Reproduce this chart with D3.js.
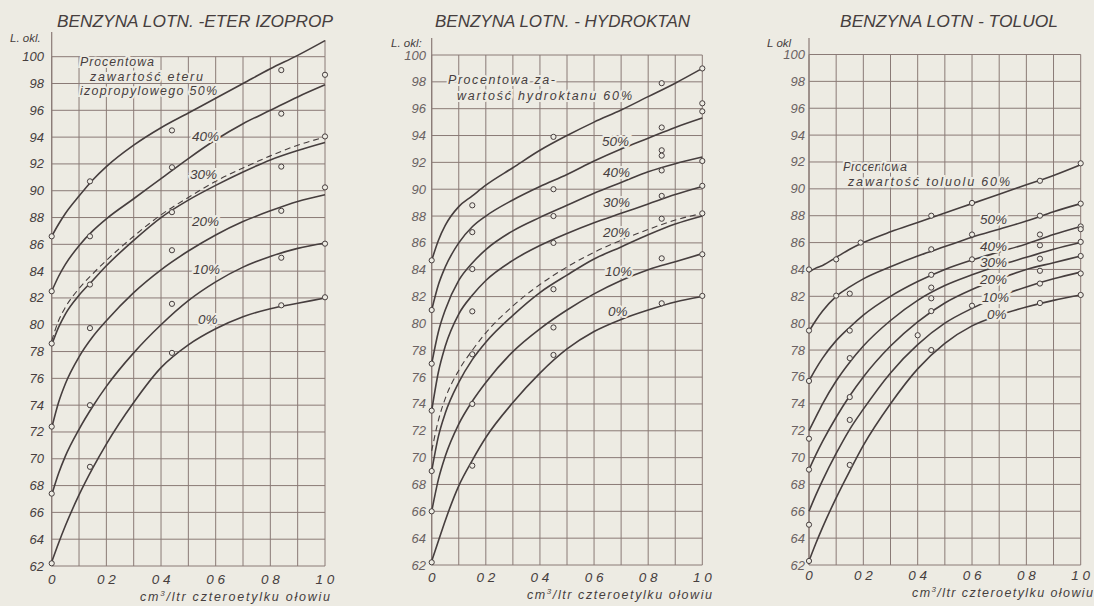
<!DOCTYPE html>
<html><head><meta charset="utf-8">
<script src="https://cdn.jsdelivr.net/npm/d3@7"></script>
<style>
body{margin:0;background:#edebe3;}
svg{display:block;}
text{font-family:"Liberation Sans",Arial,sans-serif;font-style:italic;fill:#463e3e;}
</style>
</head><body>
<svg id="chart" width="1094" height="606"></svg>
<script>
// ---------- shared axes data ----------
const xs = [0, 0.025, 0.05, 0.1, 0.15, 0.2, 0.3, 0.4, 0.5, 0.6, 0.7, 0.8, 0.9, 1.0];
const yTicks = [62,64,66,68,70,72,74,76,78,80,82,84,86,88,90,92,94,96,98,100];
const xGridVals = [0,0.1,0.2,0.3,0.4,0.5,0.6,0.7,0.8,0.9,1.0];
const xTicks = [0,0.2,0.4,0.6,0.8,1.0];
const xTickLabels = ["0","0 2","0 4","0 6","0 8","1 0"];
const yAxisLabels = ["L. okl.","L. okl:","L okl"];
const xAxisLabel = "czteroetylku ołowiu";

// ---------- panel 1: eter izopropylowy ----------
const eterTitle = "BENZYNA LOTN. -ETER IZOPROP";
const eterNames = ["0%","10%","20%","30%","40%","50%"];
const eter0  = [62.3,63.7,65.0,67.3,69.3,71.1,74.2,76.8,78.5,79.7,80.6,81.2,81.6,82.0];
const eter10 = [67.3,68.9,70.2,72.2,73.9,75.4,77.9,80.0,81.8,83.2,84.3,85.1,85.7,86.1];
const eter20 = [72.3,74.2,75.6,77.6,79.1,80.3,82.4,84.1,85.5,86.7,87.7,88.5,89.2,89.7];
const eter30 = [78.5,79.8,80.8,82.2,83.3,84.4,86.3,88.0,89.3,90.4,91.4,92.3,93.0,93.6];
const eter30dash = [78.8,80.3,81.3,82.7,83.8,84.8,86.6,88.2,89.5,90.7,91.7,92.6,93.4,94.0];
const eter40 = [82.5,83.6,84.5,85.9,87.0,87.9,89.4,90.9,92.4,93.8,95.0,96.0,97.0,97.9];
const eter50 = [86.6,87.5,88.3,89.6,90.8,91.8,93.4,94.7,95.8,96.9,98.0,99.1,100.1,101.2];
const eterPtX = [0, 0.14, 0.44, 0.84, 1.0];
const eterPtY = [[86.6,82.5,78.6,72.4,67.4,62.2],[90.7,86.6,83.0,79.75,74.0,69.4],[94.5,91.75,88.4,85.56,81.56,77.9],[99.0,95.75,91.8,88.5,85.0,81.45],[98.65,94.05,90.25,86.05,82.05]];
const eterNote = ["Procentowa","zawartość eteru","izopropylowego 50%"];

// ---------- panel 2: hydroktan ----------
const hydTitle = "BENZYNA LOTN. - HYDROKTAN";
const hydNames = ["0%","10%","20%","30%","40%","50%","60%"];
const hyd0  = [62.3,63.8,65.3,67.9,69.8,71.5,74.1,76.3,78.1,79.4,80.3,81.0,81.6,82.0];
const hyd10 = [66.0,68.4,70.1,72.5,74.2,75.6,77.9,79.6,81.0,82.2,83.2,84.0,84.6,85.2];
const hyd20 = [69.0,71.6,73.3,75.6,77.3,78.6,80.6,82.3,83.6,84.8,85.7,86.6,87.4,88.0];
const hyd20dash = [70.5,72.8,74.4,76.5,78.0,79.3,81.3,82.9,84.2,85.3,86.2,87.0,87.7,88.2];
const hyd30 = [73.5,76.4,78.3,80.7,82.1,83.2,84.7,85.8,86.7,87.5,88.2,88.9,89.6,90.2];
const hyd40 = [77.0,79.4,81.0,83.2,84.5,85.5,86.9,87.9,88.8,89.7,90.5,91.3,91.9,92.4];
const hyd50 = [81.0,82.9,84.2,86.0,87.2,88.0,89.2,90.2,91.1,92.1,93.0,93.8,94.6,95.3];
const hyd60 = [84.7,86.2,87.3,88.7,89.5,90.3,91.6,92.9,94.0,95.0,95.9,96.9,97.9,99.0];
const hydPtX = [0, 0.15, 0.45, 0.85, 1.0];
const hydPtY = [[84.7,81.0,77.0,73.5,69.0,66.0,62.2],[88.8,86.8,84.05,80.9,77.7,74.0,69.4],[93.9,90.0,88.0,86.0,82.55,79.7,77.65],[97.9,94.6,92.9,92.5,91.4,89.5,87.8,84.85,81.5],[99.0,96.4,95.8,92.1,90.25,88.2,85.15,82.05]];
const hydNote = ["Procentowa za-","wartość hydroktanu 60%"];

// ---------- panel 3: toluol ----------
const tolTitle = "BENZYNA LOTN - TOLUOL";
const tolNames = ["0%","10%","20%","30%","40%","50%","60%"];
const tol0  = [62.3,63.6,64.8,67.0,69.0,70.9,74.0,76.6,78.5,79.8,80.6,81.2,81.7,82.1];
const tol10 = [66.0,67.2,68.3,70.3,72.1,73.6,76.3,78.4,80.0,81.1,82.0,82.7,83.3,83.8];
const tol20 = [69.1,70.2,71.2,73.0,74.6,76.0,78.3,80.1,81.5,82.5,83.3,84.0,84.5,85.0];
const tol30 = [72.0,73.0,74.0,75.7,77.1,78.3,80.2,81.7,82.8,83.6,84.3,84.9,85.5,86.0];
const tol40 = [75.7,76.6,77.4,78.7,79.7,80.6,82.0,83.1,84.0,84.7,85.3,85.9,86.6,87.2];
const tol50 = [79.4,80.2,80.9,82.0,82.7,83.3,84.2,85.0,85.7,86.4,87.0,87.6,88.3,88.9];
const tol60 = [83.8,84.1,84.3,84.9,85.5,86.0,86.8,87.5,88.2,88.9,89.6,90.3,91.0,91.8];
const tolPtX = [0, 0.1, 0.15, 0.19, 0.4, 0.45, 0.6, 0.85, 1.0];
const tolPtY = [[84.0,79.45,75.7,71.4,69.1,65.0,62.3],[84.75,82.05],[82.2,79.45,77.4,74.5,72.8,69.45],[86.0],[79.1],[88.0,85.5,83.6,82.65,81.85,80.9,78.0],[88.95,86.6,84.75,81.3],[90.6,88.0,86.6,85.8,84.8,83.9,82.95,81.5],[91.9,88.9,87.2,87.0,86.05,85.0,83.7,82.1]];
const tolNote = ["Procentowa","zawartość toluolu 60%"];

// ---------- layout (positions only) ----------
const panels = [
  {title:eterTitle, titleX:57, titleW:276, titleY:27,
   x0:51.7, x1:325, yTop:56.7, yBot:566, yLabRight:44, axisTop:32, rightTop:40,
   yLab:yAxisLabels[0], yLabX:10, yLabY:42, labFill:"#463e3e",
   series:[eter0,eter10,eter20,eter30,eter40,eter50], dashed:[eter30dash],
   names:eterNames,
   labelPos:[[198,324],[193,274],[192,226],[190,179],[192,141],null],
   ptX:eterPtX, ptY:eterPtY,
   note:eterNote, notePos:[[80,66,74],[90,81,113],[80,95,137]],
   tickY:584, xlabX:140, xlabW:190, xlabY:601},
  {title:hydTitle, titleX:435, titleW:255, titleY:27,
   x0:431.7, x1:702.3, yTop:55, yBot:565, yLabRight:426, axisTop:38, rightTop:null,
   yLab:yAxisLabels[1], yLabX:391, yLabY:47, labFill:"#6a6262",
   series:[hyd0,hyd10,hyd20,hyd30,hyd40,hyd50,hyd60], dashed:[hyd20dash],
   names:hydNames,
   labelPos:[[608,316],[605,276],[603,237],[603,207],[603,177],[602,146],null],
   ptX:hydPtX, ptY:hydPtY,
   note:hydNote, notePos:[[448,84,107],[457,100,175]],
   tickY:582, xlabX:527, xlabW:185, xlabY:599},
  {title:tolTitle, titleX:840, titleW:218, titleY:27,
   x0:809, x1:1080.7, yTop:54.5, yBot:565, yLabRight:805, axisTop:38, rightTop:null,
   yLab:yAxisLabels[2], yLabX:767, yLabY:47, labFill:"#6a6262",
   series:[tol0,tol10,tol20,tol30,tol40,tol50,tol60], dashed:[],
   names:tolNames,
   labelPos:[[987,319],[982,302],[980,284],[980,267],[980,251],[980,224],null],
   ptX:tolPtX, ptY:tolPtY,
   note:tolNote, notePos:[[843,171,64],[848,186,162]],
   tickY:580, xlabX:912, xlabW:181, xlabY:597}
];

const BG = "#edebe3", GRID = "#8a7a76", INK = "#463e3e";
const svg = d3.select("#chart");
svg.append("rect").attr("width",1094).attr("height",606).attr("fill",BG);

panels.forEach(p => {
  const x = d3.scaleLinear().domain([0,1]).range([p.x0,p.x1]);
  const y = d3.scaleLinear().domain([62,100]).range([p.yBot,p.yTop]);
  const g = svg.append("g");

  // grid
  g.selectAll(".hg").data(yTicks).enter().append("line")
    .attr("x1",x(0)).attr("x2",x(1)).attr("y1",d=>y(d)).attr("y2",d=>y(d))
    .attr("stroke",GRID).attr("stroke-width",1);
  g.selectAll(".vg").data(xGridVals).enter().append("line")
    .attr("x1",d=>x(d)).attr("x2",d=>x(d)).attr("y1",y(62)).attr("y2",y(100))
    .attr("stroke",GRID).attr("stroke-width",1);
  // axis extension to label
  g.append("line").attr("x1",x(0)).attr("x2",x(0)).attr("y1",p.axisTop).attr("y2",y(62))
    .attr("stroke",GRID).attr("stroke-width",1.2);
  if (p.rightTop) g.append("line").attr("x1",x(1)).attr("x2",x(1)).attr("y1",p.rightTop).attr("y2",y(100))
    .attr("stroke",GRID).attr("stroke-width",1);

  // y tick labels
  g.selectAll(".yl").data(yTicks).enter().append("text")
    .attr("x",p.yLabRight).attr("y",d=>y(d)+4.5).attr("text-anchor","end")
    .attr("font-size",13).style("fill",p.labFill).text(d=>d);
  g.append("text").attr("x",p.yLabX).attr("y",p.yLabY).attr("font-size",11.5).text(p.yLab);

  // x tick labels
  g.selectAll(".xl").data(xTicks).enter().append("text")
    .attr("x",d=>x(d)).attr("y",p.tickY).attr("text-anchor","middle")
    .attr("font-size",13.5).attr("xml:space","preserve").text((d,i)=>xTickLabels[i]);
  const xl = g.append("text").attr("x",p.xlabX).attr("y",p.xlabY).attr("font-size",12.5)
    .attr("textLength",p.xlabW).attr("lengthAdjust","spacing");
  xl.append("tspan").text("cm");
  xl.append("tspan").attr("dy",-5).attr("font-size",8).text("3");
  xl.append("tspan").attr("dy",5).text("/ltr  " + xAxisLabel);

  // title
  g.append("text").attr("x",p.titleX).attr("y",p.titleY).attr("font-size",17)
    .attr("textLength",p.titleW).attr("lengthAdjust","spacingAndGlyphs").text(p.title);

  // curves
  const line = d3.line().x((d,i)=>x(xs[i])).y(d=>y(d)).curve(d3.curveMonotoneX);
  p.dashed.forEach(s => g.append("path").attr("d",line(s)).attr("fill","none")
    .attr("stroke",INK).attr("stroke-width",1.1).attr("stroke-dasharray","6,4"));
  p.series.forEach(s => g.append("path").attr("d",line(s)).attr("fill","none")
    .attr("stroke",INK).attr("stroke-width",1.6));

  // data points
  p.ptX.forEach((px,i) => {
    g.selectAll(null).data(p.ptY[i]).enter().append("circle")
      .attr("cx",x(px)).attr("cy",d=>y(d)).attr("r",2.6)
      .attr("fill",BG).attr("stroke",INK).attr("stroke-width",1);
  });

  // labels
  p.names.forEach((n,i) => {
    const lp = p.labelPos[i]; if (!lp) return;
    g.append("text").attr("x",lp[0]).attr("y",lp[1]).attr("font-size",13.5)
      .attr("stroke",BG).attr("stroke-width",4).attr("paint-order","stroke").text(n);
  });
  p.note.forEach((t,i) => {
    const np = p.notePos[i];
    g.append("text").attr("x",np[0]).attr("y",np[1]).attr("font-size",12.5)
      .attr("textLength",np[2]).attr("lengthAdjust","spacing")
      .attr("stroke",BG).attr("stroke-width",4).attr("paint-order","stroke").text(t);
  });
});
</script>
</body></html>
